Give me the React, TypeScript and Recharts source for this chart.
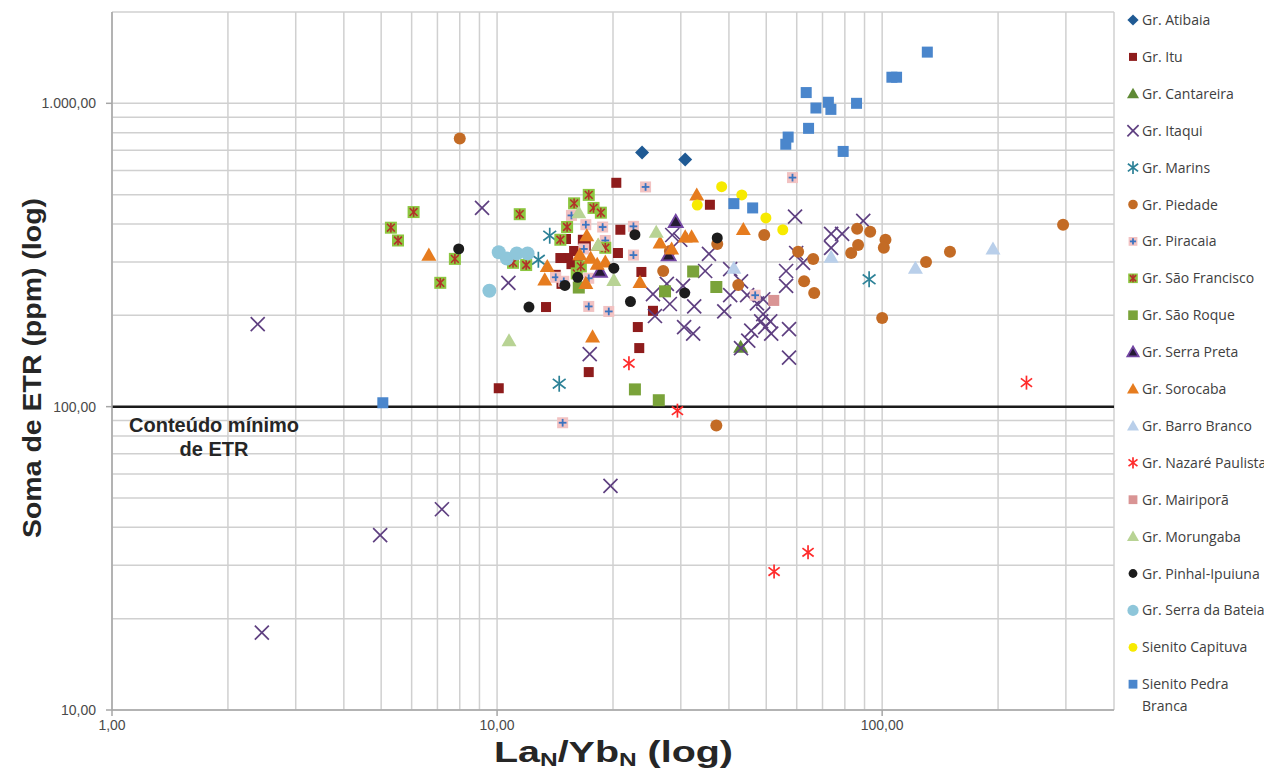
import React from 'react';
import { ScatterChart, Scatter, XAxis, YAxis, CartesianGrid, ReferenceLine } from 'recharts';

// [La/Yb normalised, soma ETR ppm]
const atibaia = [[23.8, 688], [30.8, 653]];
const itu = [
  [20.4, 547], [35.7, 463], [20.9, 383], [20.6, 321], [23.7, 278], [13.4, 213], [23.2, 183],
  [23.4, 156], [17.3, 130], [25.4, 207], [10.1, 115], [15.1, 357], [16.7, 355], [15.85, 326],
  [15.3, 309], [15.6, 295], [17.0, 339], [14.2, 272], [14.7, 254], [16.2, 295], [14.6, 309],
];
const cantareira = [[42.9, 157]];
const itaqui = [
  [2.39, 187], [2.45, 18], [4.97, 37.7], [7.19, 45.9], [9.14, 452], [10.7, 256], [19.7, 54.8],
  [17.4, 149], [28.5, 368], [29.9, 355], [35.5, 319], [34.7, 280], [27.6, 254], [30.4, 250],
  [25.4, 235], [28.1, 218], [32.5, 214], [25.7, 199], [30.6, 183], [32.3, 174], [40.3, 284],
  [43.0, 259], [40.3, 233], [44.6, 233], [38.9, 206], [47.3, 219], [49.1, 226], [49.1, 202],
  [48.5, 191], [51.2, 191], [45.7, 178], [49.7, 183], [51.5, 174], [44.9, 165], [43.0, 156],
  [57.3, 180], [57.3, 145], [56.3, 280], [56.3, 250], [59.4, 423], [59.8, 321], [62.3, 298],
  [73.7, 371], [78.7, 371], [73.7, 334], [89.3, 410],
];
const marins = [[13.7, 366], [12.8, 305], [14.5, 119], [92.5, 263]];
const piedade = [
  [8.0, 766], [37.1, 86.7], [37.3, 344], [28.1, 326], [49.4, 368], [60.5, 324], [66.2, 307],
  [42.3, 252], [62.7, 259], [66.6, 237], [27.0, 280], [86.1, 386], [93.1, 377], [102, 355],
  [101, 334], [86.6, 341], [83.1, 321], [130, 300], [150, 324], [295, 398], [100, 196],
];
const piracaia = [
  [24.3, 530], [58.5, 569], [15.6, 427], [17.0, 398], [18.8, 391], [22.6, 393], [19.1, 353],
  [22.6, 316], [16.8, 331], [17.3, 265], [14.2, 267], [14.9, 259], [17.3, 214], [19.5, 206],
  [14.8, 88.5], [46.8, 233],
];
const saoFrancisco = [
  [6.07, 438], [5.3, 389], [5.53, 353], [7.77, 307], [7.12, 256], [11.45, 431], [11.0, 298],
  [11.9, 293], [15.85, 468], [17.3, 499], [17.8, 452], [18.6, 436], [15.2, 391], [14.6, 355],
  [19.1, 334], [16.1, 275], [16.5, 290],
];
const saoRoque = [[22.8, 114], [26.3, 105], [27.3, 240], [37.1, 248], [32.3, 279], [16.3, 247]];
const serraPreta = [[29.1, 407], [27.9, 316], [18.5, 279]];
const sorocaba = [
  [6.65, 316], [13.5, 290], [13.3, 262], [17.7, 170], [33.0, 499], [43.6, 384], [26.5, 347],
  [30.8, 363], [32.0, 363], [28.4, 331], [17.1, 366], [16.4, 317], [17.5, 309], [18.2, 295],
  [19.1, 300], [23.5, 257], [17.0, 255], [18.3, 340],
];
const barroBranco = [[41.2, 286], [73.7, 311], [122, 286], [194, 331]];
const nazare = [[22.0, 139], [29.4, 97], [237, 120], [64.2, 33.1], [52.4, 28.6]];
const mairipora = [[52.3, 224]];
const morungaba = [[10.74, 165], [16.3, 436], [25.9, 376], [18.3, 341], [20.1, 261]];
const pinhal = [
  [7.95, 331], [12.1, 213], [15.0, 251], [22.8, 369], [20.1, 286], [16.2, 267], [22.2, 222],
  [30.7, 237], [37.3, 360],
];
const bateia = [[10.1, 323], [10.6, 308], [11.25, 320], [12.0, 320], [9.55, 241]];
const capituva = [[38.3, 531], [43.2, 499], [49.9, 419], [55.2, 383], [33.1, 462]];
const pedraBranca = [
  [5.05, 103], [131, 1475], [106, 1219], [109, 1219], [63.5, 1085], [67.3, 965], [72.5, 1008],
  [73.6, 955], [85.8, 1000], [64.4, 827], [57.0, 774], [56.2, 733], [79.2, 694], [41.2, 467],
  [46.1, 452],
];

const xTicks = [1, 2, 3, 4, 5, 6, 7, 8, 9, 10, 20, 30, 40, 50, 60, 70, 80, 90, 100, 200, 300];
const yTicks = [10, 20, 30, 40, 50, 60, 70, 80, 90, 100, 200, 300, 400, 500, 600, 700, 800, 900, 1000];
const xMajor = [1, 10, 100];
const yMajor = [10, 100, 1000];

const series = [
  { name: 'Gr. Atibaia', data: atibaia, kind: 'diamond', fill: '#1f5a94', s: 7 },
  { name: 'Gr. Itu', data: itu, kind: 'square', fill: '#8e1c1c', s: 5 },
  { name: 'Gr. Cantareira', data: cantareira, kind: 'triangle', fill: '#5f8a35', s: 7.5 },
  { name: 'Gr. Itaqui', data: itaqui, kind: 'x', fill: '#5e3f80', s: 7 },
  { name: 'Gr. Marins', data: marins, kind: 'asterisk', fill: '#2c8197', s: 8 },
  { name: 'Gr. Piedade', data: piedade, kind: 'circle', fill: '#c36b25', s: 6 },
  { name: 'Gr. Piracaia', data: piracaia, kind: 'plusSquare', fill: '#f2c2c2', stroke: '#3b74c0', s: 5.5 },
  { name: 'Gr. São Francisco', data: saoFrancisco, kind: 'xSquare', fill: '#8cc63f', stroke: '#b3302a', s: 6 },
  { name: 'Gr. São Roque', data: saoRoque, kind: 'square', fill: '#7aa33a', s: 6 },
  { name: 'Gr. Serra Preta', data: serraPreta, kind: 'triOutline', fill: '#241a33', stroke: '#7346a3', s: 7 },
  { name: 'Gr. Sorocaba', data: sorocaba, kind: 'triangle', fill: '#e67c1f', s: 7.5 },
  { name: 'Gr. Barro Branco', data: barroBranco, kind: 'triangle', fill: '#b9cfea', s: 7.5 },
  { name: 'Gr. Nazaré Paulista', data: nazare, kind: 'asterisk', fill: '#ff2a2a', s: 7 },
  { name: 'Gr. Mairiporã', data: mairipora, kind: 'square', fill: '#d99494', s: 5.5 },
  { name: 'Gr. Morungaba', data: morungaba, kind: 'triangle', fill: '#b8d394', s: 7.5 },
  { name: 'Gr. Pinhal-Ipuiuna', data: pinhal, kind: 'circle', fill: '#1c1c1c', s: 5.5 },
  { name: 'Gr. Serra da Bateia', data: bateia, kind: 'circle', fill: '#8ec6da', s: 7 },
  { name: 'Sienito Capituva', data: capituva, kind: 'circle', fill: '#f7ea00', s: 5.5 },
  { name: 'Sienito Pedra Branca', data: pedraBranca, kind: 'square', fill: '#4a86cc', s: 5.5 },
];

const fmt = (v: number) => String(Math.round(v)).replace(/\B(?=(\d{3})+(?!\d))/g, '.') + ',00';

function Marker({ kind, cx, cy, fill, stroke, s }: any) {
  switch (kind) {
    case 'diamond':
      return <polygon points={`${cx},${cy - s} ${cx + s},${cy} ${cx},${cy + s} ${cx - s},${cy}`} fill={fill} />;
    case 'square':
      return <rect x={cx - s} y={cy - s} width={2 * s} height={2 * s} fill={fill} />;
    case 'triangle':
      return <polygon points={`${cx},${cy - s} ${cx + s},${cy + s * 0.75} ${cx - s},${cy + s * 0.75}`} fill={fill} />;
    case 'triOutline':
      return (
        <polygon
          points={`${cx},${cy - s} ${cx + s},${cy + s * 0.75} ${cx - s},${cy + s * 0.75}`}
          fill={fill}
          stroke={stroke}
          strokeWidth={1.8}
        />
      );
    case 'x':
      return (
        <g stroke={fill} strokeWidth={1.7}>
          <line x1={cx - s} y1={cy - s} x2={cx + s} y2={cy + s} />
          <line x1={cx - s} y1={cy + s} x2={cx + s} y2={cy - s} />
        </g>
      );
    case 'asterisk':
      return (
        <g stroke={fill} strokeWidth={1.7}>
          <line x1={cx} y1={cy - s} x2={cx} y2={cy + s} />
          <line x1={cx - s * 0.8} y1={cy - s * 0.6} x2={cx + s * 0.8} y2={cy + s * 0.6} />
          <line x1={cx - s * 0.8} y1={cy + s * 0.6} x2={cx + s * 0.8} y2={cy - s * 0.6} />
        </g>
      );
    case 'circle':
      return <circle cx={cx} cy={cy} r={s} fill={fill} />;
    case 'plusSquare':
      return (
        <g>
          <rect x={cx - s} y={cy - s} width={2 * s} height={2 * s} fill={fill} />
          <g stroke={stroke} strokeWidth={1.8}>
            <line x1={cx - s * 0.7} y1={cy} x2={cx + s * 0.7} y2={cy} />
            <line x1={cx} y1={cy - s * 0.7} x2={cx} y2={cy + s * 0.7} />
          </g>
        </g>
      );
    case 'xSquare':
      return (
        <g>
          <rect x={cx - s} y={cy - s} width={2 * s} height={2 * s} fill={fill} />
          <g stroke={stroke} strokeWidth={1.6}>
            <line x1={cx - s * 0.65} y1={cy - s * 0.65} x2={cx + s * 0.65} y2={cy + s * 0.65} />
            <line x1={cx - s * 0.65} y1={cy + s * 0.65} x2={cx + s * 0.65} y2={cy - s * 0.65} />
            <line x1={cx} y1={cy - s * 0.8} x2={cx} y2={cy + s * 0.8} />
          </g>
        </g>
      );
    default:
      return null;
  }
}

const XTick = (p: any) => {
  const v = p.payload.value;
  if (!xMajor.includes(v)) return <g />;
  return (
    <g>
      <line x1={p.x} x2={p.x} y1={702} y2={708} stroke="#a6a6a6" strokeWidth={1.5} />
      <text x={p.x} y={722} textAnchor="middle" fontSize={14} fill="#4a4a4a">
        {fmt(v)}
      </text>
    </g>
  );
};

const YTick = (p: any) => {
  const v = p.payload.value;
  if (!yMajor.includes(v)) return <g />;
  return (
    <g>
      <line x1={98} x2={104} y1={p.y} y2={p.y} stroke="#a6a6a6" strokeWidth={1.5} />
      <text x={88} y={p.y + 5} textAnchor="end" fontSize={14} fill="#4a4a4a">
        {fmt(v)}
      </text>
    </g>
  );
};

const RefLabel = () => (
  <g fontSize={20} fontWeight="bold" fill="#262626" textAnchor="middle">
    <text x={206} y={424}>Conteúdo mínimo</text>
    <text x={206} y={448}>de ETR</text>
  </g>
);

const YTitle = () => (
  <text
    transform="translate(24,360) rotate(-90)"
    textAnchor="middle"
    dominantBaseline="central"
    fontSize={26}
    fontWeight="bold"
    fill="#262626"
    textLength={340}
    lengthAdjust="spacingAndGlyphs"
  >
    Soma de ETR (ppm) (log)
  </text>
);

const XTitle = () => (
  <text
    x={486}
    y={754}
    fontSize={29}
    fontWeight="bold"
    fill="#262626"
    textLength={239}
    lengthAdjust="spacingAndGlyphs"
  >
    La<tspan fontSize={18} dy={4}>N</tspan>
    <tspan dy={-4}>/Yb</tspan>
    <tspan fontSize={18} dy={4}>N</tspan>
    <tspan dy={-4}> (log)</tspan>
  </text>
);

const Legend = () => (
  <svg
    width={1264}
    height={763}
    style={{ position: 'absolute', left: 0, top: 0, overflow: 'visible', pointerEvents: 'none' }}
  >
    {series.map((sr, i) => {
      const cy = 12 + i * 36.9;
      return (
        <g key={sr.name}>
          <Marker kind={sr.kind} cx={1125} cy={cy} fill={sr.fill} stroke={sr.stroke} s={sr.s * 0.8} />
          <text x={1134} y={cy + 5} fontSize={14} fill="#404040" fontFamily="'Open Sans', sans-serif">
            {sr.name === 'Sienito Pedra Branca' ? (
              <>
                <tspan x={1134}>Sienito Pedra</tspan>
                <tspan x={1134} dy={22}>Branca</tspan>
              </>
            ) : (
              sr.name
            )}
          </text>
        </g>
      );
    })}
  </svg>
);

export default function App() {
  return (
    <div style={{ position: 'relative', width: 1256, height: 763, fontFamily: "'Liberation Sans', Arial, sans-serif" }}>
      <ScatterChart width={1256} height={763} margin={{ top: 4, right: 150, bottom: 8, left: 0 }}>
        <CartesianGrid stroke="#d0d0d0" strokeWidth={1.5} />
        <XAxis
          type="number"
          dataKey="x"
          scale="log"
          domain={[1, 400]}
          ticks={xTicks}
          interval={0}
          allowDataOverflow
          height={53}
          tickLine={false}
          axisLine={{ stroke: '#a6a6a6', strokeWidth: 1.5 }}
          tick={XTick}
          label={XTitle}
        />
        <YAxis
          type="number"
          dataKey="y"
          scale="log"
          domain={[10, 2000]}
          ticks={yTicks}
          interval={0}
          allowDataOverflow
          width={104}
          tickLine={false}
          axisLine={{ stroke: '#a6a6a6', strokeWidth: 1.5 }}
          tick={YTick}
          label={YTitle}
        />
        <ReferenceLine y={100} stroke="#1a1a1a" strokeWidth={2.5} label={RefLabel} />
        {series.map((sr) => (
          <Scatter
            key={sr.name}
            name={sr.name}
            data={sr.data.map(([x, y]) => ({ x, y }))}
            isAnimationActive={false}
            shape={(p: any) => <Marker kind={sr.kind} cx={p.cx} cy={p.cy} fill={sr.fill} stroke={sr.stroke} s={sr.s} />}
          />
        ))}
      </ScatterChart>
      <Legend />
    </div>
  );
}
